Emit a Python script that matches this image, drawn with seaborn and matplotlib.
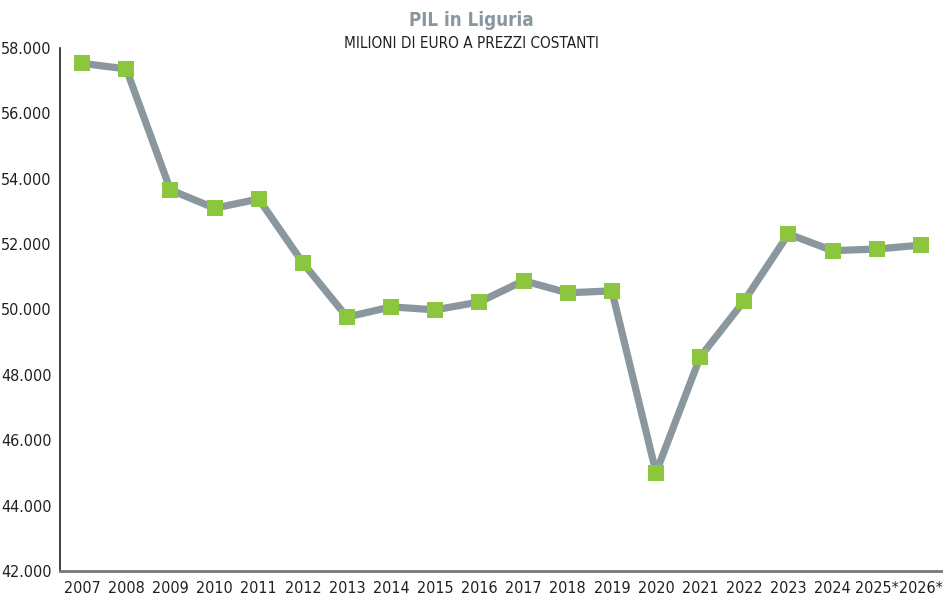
import matplotlib
matplotlib.use("Agg")
import matplotlib.pyplot as plt
from matplotlib import font_manager
import numpy as np
import pandas as pd
import seaborn as sns

# PIL Liguria, milioni di euro a prezzi costanti
anni = ["2007", "2008", "2009", "2010", "2011", "2012", "2013", "2014", "2015", "2016",
        "2017", "2018", "2019", "2020", "2021", "2022", "2023", "2024", "2025*", "2026*"]
pil = [57530, 57360, 53660, 53100, 53380, 51430, 49770, 50080, 49990, 50230,
       50880, 50510, 50570, 45010, 48550, 50270, 52310, 51800, 51850, 51970]
y_ticks = [42000, 44000, 46000, 48000, 50000, 52000, 54000, 56000, 58000]

LINE_COL = "#8b979e"
MARK_COL = "#8cc63f"
TEXT_COL = "#231f20"

sns.set_theme(style="white")

# reference uses a condensed face: take one if the system has it
narrow = [f for f in font_manager.fontManager.ttflist
          if ("Narrow" in f.fname or "Condensed" in f.fname)
          and "Mono" not in f.fname and "Serif" not in f.fname
          and "Oblique" not in f.fname and "Italic" not in f.fname]
regular = [f for f in narrow if f.weight in (400, "normal", "regular")]
bold = [f for f in narrow if f.weight in (700, "bold")]
if regular:
    FP = font_manager.FontProperties(fname=regular[0].fname)
    FPB = font_manager.FontProperties(fname=(bold or regular)[0].fname)
    SZ = 11.5
else:
    FP = font_manager.FontProperties(family="Roboto")
    FPB = font_manager.FontProperties(family="Roboto", weight="bold")
    SZ = 10.5

df = pd.DataFrame({"x": np.arange(len(anni)), "pil": pil})

fig = plt.figure(figsize=(9.43, 5.97), dpi=100)
ax = fig.add_axes([60 / 943, 1 - 571 / 597, 883 / 943, 523 / 597])

sns.lineplot(data=df, x="x", y="pil", ax=ax, color=LINE_COL, linewidth=5.2,
             marker="s", markersize=11, markerfacecolor=MARK_COL,
             markeredgecolor=MARK_COL, markeredgewidth=0, zorder=3)

ax.set_xlim(-0.5, len(anni) - 0.5)
ax.set_ylim(42000, 58000)
ax.set_xticks(df["x"])
ax.set_xticklabels(anni, fontproperties=FP, fontsize=SZ, color=TEXT_COL)
ax.set_yticks(y_ticks)
ax.set_yticklabels([f"{v // 1000}.000" for v in y_ticks], fontproperties=FP,
                   fontsize=SZ, color=TEXT_COL)
ax.set_xlabel("")
ax.set_ylabel("")

for s in ["top", "right"]:
    ax.spines[s].set_visible(False)
ax.spines["left"].set_color(TEXT_COL)
ax.spines["left"].set_linewidth(1.2)
ax.spines["bottom"].set_color("#77787b")
ax.spines["bottom"].set_linewidth(2)

ax.tick_params(axis="y", direction="in", length=16, width=1.2, color=TEXT_COL, pad=6)
ax.tick_params(axis="x", length=0, pad=7)

title_fp = FPB.copy()
title_fp.set_size(SZ + 2)
sub_fp = FP.copy()
sub_fp.set_size(SZ - 0.5)
fig.text(0.5, 1 - 20 / 597, "PIL in Liguria", ha="center", va="center",
         fontproperties=title_fp, color="#8b979e")
fig.text(0.5, 1 - 44 / 597, "MILIONI DI EURO A PREZZI COSTANTI", ha="center",
         va="center", fontproperties=sub_fp, color=TEXT_COL)

fig.savefig("out.png", dpi=100)
plt.close(fig)
